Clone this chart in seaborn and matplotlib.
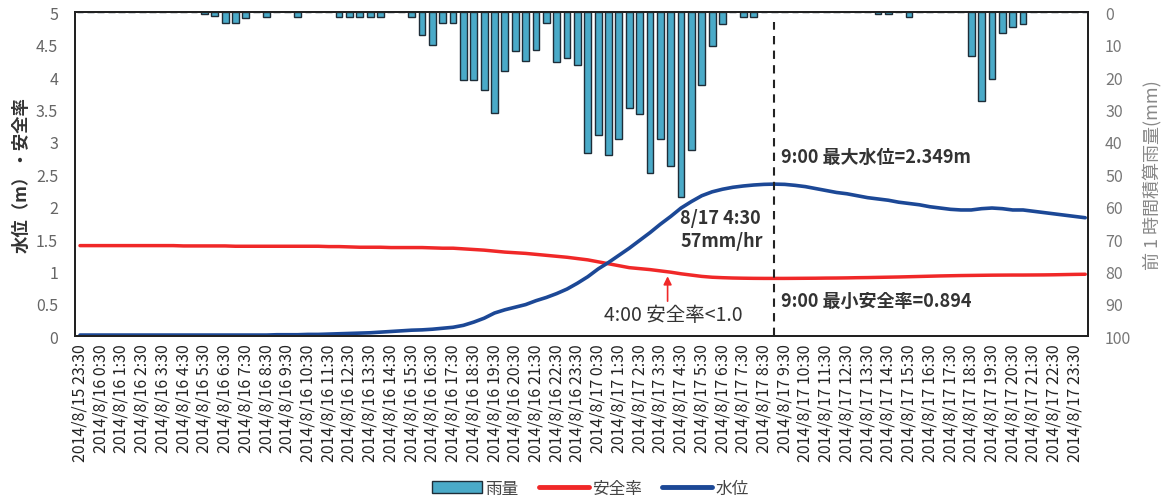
import pandas as pd
import numpy as np
import seaborn as sns
import matplotlib.pyplot as plt
from matplotlib.patches import Patch
from matplotlib.lines import Line2D

# 30分ごとのデータ (2014/8/15 23:30 ～ 2014/8/18 0:00)
times = pd.date_range('2014-08-15 23:30', periods=98, freq='30min')
idx = np.arange(len(times))

# 前1時間積算雨量 (mm)
rain = [0, 0, 0, 0, 0, 0, 0, 0, 0, 0, 0, 0, 0.5, 1.0, 3.2, 3.2, 1.8, 0, 1.3, 0,
        0, 1.3, 0, 0, 0, 1.3, 1.3, 1.3, 1.3, 1.3, 0, 0, 1.3, 7.0, 10.0, 3.2, 3.2, 21.0, 21.0, 24.0,
        31.0, 18.0, 12.0, 15.0, 11.5, 3.4, 15.3, 14.2, 16.3, 43.5, 38.0, 44.0, 39.0, 29.5, 31.5, 49.5, 39.0, 47.5, 57.0, 42.5,
        22.5, 10.5, 3.5, 0, 1.5, 1.5, 0, 0, 0, 0, 0, 0, 0, 0, 0, 0, 0, 0.5, 0.5, 0,
        1.5, 0, 0, 0, 0, 0, 13.5, 27.5, 20.5, 6.5, 4.5, 3.5, 0, 0, 0, 0, 0, 0]

# 安全率
safety = [1.40, 1.40, 1.40, 1.40, 1.40, 1.40, 1.40, 1.40, 1.40, 1.40, 1.395, 1.395, 1.395, 1.395, 1.395, 1.39, 1.39, 1.39, 1.39, 1.39,
          1.39, 1.39, 1.39, 1.39, 1.385, 1.385, 1.38, 1.375, 1.375, 1.375, 1.37, 1.37, 1.37, 1.37, 1.365, 1.36, 1.36, 1.35, 1.34, 1.33,
          1.315, 1.30, 1.29, 1.28, 1.265, 1.25, 1.235, 1.22, 1.20, 1.18, 1.15, 1.12, 1.09, 1.06, 1.045, 1.03, 1.01, 0.99, 0.965, 0.945,
          0.925, 0.912, 0.905, 0.90, 0.897, 0.895, 0.894, 0.894, 0.894, 0.895, 0.896, 0.897, 0.899, 0.90, 0.902, 0.905, 0.907, 0.91, 0.913, 0.916,
          0.92, 0.924, 0.928, 0.932, 0.935, 0.938, 0.94, 0.942, 0.944, 0.945, 0.946, 0.946, 0.947, 0.948, 0.95, 0.953, 0.956, 0.958]

# 水位 (m)
level = [0.02, 0.02, 0.02, 0.02, 0.02, 0.02, 0.02, 0.02, 0.02, 0.02, 0.02, 0.02, 0.02, 0.02, 0.02, 0.02, 0.02, 0.02, 0.02, 0.025,
         0.025, 0.025, 0.03, 0.03, 0.035, 0.04, 0.045, 0.05, 0.055, 0.065, 0.075, 0.085, 0.095, 0.10, 0.11, 0.125, 0.14, 0.17, 0.22, 0.28,
         0.36, 0.41, 0.45, 0.49, 0.55, 0.60, 0.66, 0.73, 0.82, 0.92, 1.04, 1.14, 1.25, 1.36, 1.48, 1.60, 1.73, 1.85, 1.98, 2.08,
         2.17, 2.23, 2.27, 2.30, 2.32, 2.335, 2.345, 2.349, 2.345, 2.33, 2.31, 2.28, 2.25, 2.22, 2.20, 2.17, 2.14, 2.12, 2.10, 2.07,
         2.05, 2.03, 2.00, 1.98, 1.96, 1.95, 1.95, 1.97, 1.98, 1.97, 1.95, 1.95, 1.93, 1.91, 1.89, 1.87, 1.85, 1.83]

labels = [f"{t.year}/{t.month}/{t.day} {t.hour}:{t.minute:02d}" for t in times[:-1:2]]
i_peak = 67   # 8/17 9:00
i_rain = 58   # 8/17 4:30
i_fs = 57     # 8/17 4:00

sns.set_theme(style='white')
plt.rcParams['font.family'] = ['Noto Sans CJK JP', 'DejaVu Sans']

bar_color = '#4aaac8'
red = '#f02828'
blue = '#1c4896'

fig, ax = plt.subplots(figsize=(11.69, 5.02), dpi=100)
fig.subplots_adjust(left=0.064, right=0.931, top=0.9735, bottom=0.328)
ax2 = ax.twinx()

# 雨量 (右軸, 反転)
sns.barplot(x=idx, y=rain, ax=ax2, native_scale=True, color=bar_color, saturation=1,
            edgecolor='#1e2d38', linewidth=1.0, width=0.66)
ax2.set_ylim(100, 0)
ax2.set_yticks(range(0, 101, 10))
ax2.set_ylabel('前 1 時間積算雨量(mm)', color='#888888', fontsize=13, labelpad=8)

# 安全率・水位 (左軸)
ax.set_zorder(ax2.get_zorder() + 1)
ax.patch.set_visible(False)
sns.lineplot(x=idx, y=safety, ax=ax, color=red, linewidth=2.5)
sns.lineplot(x=idx, y=level, ax=ax, color=blue, linewidth=2.6)
ax.set_ylim(0, 5)
ax.set_yticks(np.arange(0, 5.01, 0.5))
ax.set_yticklabels(['0', '0.5', '1', '1.5', '2', '2.5', '3', '3.5', '4', '4.5', '5'])
ax.set_ylabel('水位（m）・安全率', fontsize=12.5, fontweight='bold', color='#333333', labelpad=4)
ax.set_xlim(-0.5, 97.3)

ax.set_xticks(idx[:-1:2])
ax.set_xticklabels(labels, rotation=90, fontsize=11.5, color='#222222')
ax.set_xticks(idx[1::2], minor=True)
ax.tick_params(axis='x', which='both', direction='in', length=4, width=1, color='#333333', pad=5, top=False)
ax.tick_params(axis='y', length=0, labelsize=11.5, labelcolor='#666666', pad=12)
ax2.tick_params(axis='y', length=0, labelsize=11.5, labelcolor='#777777', pad=12)
ax2.tick_params(axis='x', length=0)
for a in (ax, ax2):
    for s in a.spines.values():
        s.set_color('#222222')
        s.set_linewidth(1.4)

# 注記
ax.axvline(i_peak, ymin=0, ymax=0.97, color='#222222', linestyle=(0, (4, 3)), linewidth=1.5)
ax.text(i_peak + 0.6, 2.77, '9:00 最大水位=2.349m', fontsize=13, fontweight='bold',
        color='#333333', ha='left', va='center')
ax.text(i_peak + 0.6, 0.55, '9:00 最小安全率=0.894', fontsize=13, fontweight='bold',
        color='#333333', ha='left', va='center')
ax.text(i_rain - 0.1, 1.66, '8/17 4:30\n57mm/hr', fontsize=13, fontweight='bold',
        color='#333333', ha='left', va='center', linespacing=1.3)
ax.annotate('', xy=(i_fs - 0.3, 0.97), xytext=(i_fs - 0.3, 0.50),
            arrowprops=dict(arrowstyle='-|>', color=red, lw=1.2, mutation_scale=12))
ax.text(i_fs - 6.4, 0.33, '4:00 安全率<1.0', fontsize=14, color='#333333', ha='left', va='center')

handles = [Patch(facecolor=bar_color, edgecolor='#1e2d38', linewidth=1.0),
           Line2D([0], [0], color=red, linewidth=3.5),
           Line2D([0], [0], color=blue, linewidth=3.5)]
fig.legend(handles, ['雨量', '安全率', '水位'], loc='center', bbox_to_anchor=(0.505, 0.025),
           ncol=3, frameon=False, fontsize=12, handlelength=3, columnspacing=1.2,
           handletextpad=0.2, labelcolor='#444444')

plt.savefig('out.png', dpi=100)
